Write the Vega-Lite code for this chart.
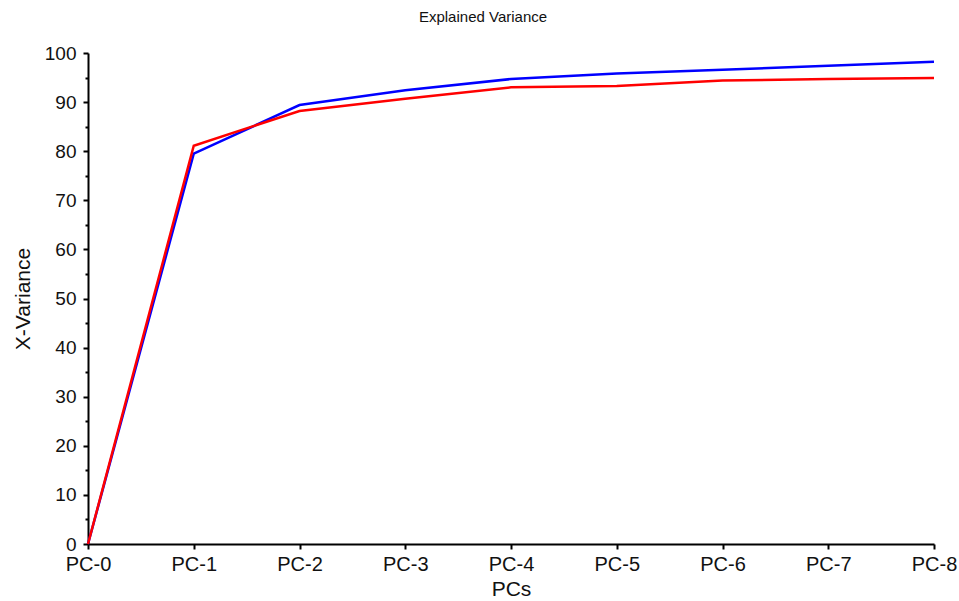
{
  "$schema": "https://vega.github.io/schema/vega-lite/v6.json",
  "width": 846,
  "height": 491,
  "autosize": {"type": "none"},
  "padding": {"left": 88, "top": 53, "right": 25, "bottom": 57},
  "background": "white",
  "config": {
    "view": {"stroke": null},
    "font": "Liberation Sans",
    "axis": {
      "grid": false,
      "domainColor": "black",
      "tickColor": "black",
      "labelColor": "#111111",
      "titleColor": "#111111",
      "domainWidth": 2,
      "tickWidth": 2,
      "labelFontSize": 20,
      "titleFontSize": 21,
      "titleFontWeight": "normal"
    }
  },
  "title": {"text": "Explained Variance", "fontSize": 15, "fontWeight": "normal", "color": "#111111", "offset": 19, "dx": -28},
  "data": {
    "values": [
      {"pc": "PC-0", "series": "Calibration", "value": 0},
      {"pc": "PC-1", "series": "Calibration", "value": 79.5},
      {"pc": "PC-2", "series": "Calibration", "value": 89.4},
      {"pc": "PC-3", "series": "Calibration", "value": 92.4},
      {"pc": "PC-4", "series": "Calibration", "value": 94.7},
      {"pc": "PC-5", "series": "Calibration", "value": 95.8},
      {"pc": "PC-6", "series": "Calibration", "value": 96.6},
      {"pc": "PC-7", "series": "Calibration", "value": 97.4},
      {"pc": "PC-8", "series": "Calibration", "value": 98.2},
      {"pc": "PC-0", "series": "Validation", "value": 0},
      {"pc": "PC-1", "series": "Validation", "value": 81.1},
      {"pc": "PC-2", "series": "Validation", "value": 88.2},
      {"pc": "PC-3", "series": "Validation", "value": 90.7},
      {"pc": "PC-4", "series": "Validation", "value": 93.0},
      {"pc": "PC-5", "series": "Validation", "value": 93.3},
      {"pc": "PC-6", "series": "Validation", "value": 94.4},
      {"pc": "PC-7", "series": "Validation", "value": 94.7},
      {"pc": "PC-8", "series": "Validation", "value": 94.9}
    ]
  },
  "layer": [
    {
      "mark": {"type": "line", "strokeWidth": 2.5},
      "encoding": {
        "x": {
          "field": "pc", "type": "ordinal",
          "scale": {"type": "point", "padding": 0},
          "axis": {"labelAngle": 0, "title": "PCs", "tickSize": 5, "labelPadding": 5, "titlePadding": 4}
        },
        "y": {
          "field": "value", "type": "quantitative",
          "scale": {"domain": [0, 100], "nice": false, "zero": true},
          "axis": {"title": "X-Variance", "values": [0, 10, 20, 30, 40, 50, 60, 70, 80, 90, 100], "tickSize": 5, "labelPadding": 7, "labelFontSize": 19, "titlePadding": 11}
        },
        "color": {
          "field": "series", "type": "nominal",
          "scale": {"domain": ["Calibration", "Validation"], "range": ["#0000ff", "#ff0000"]},
          "legend": null
        }
      }
    },
    {
      "mark": {"type": "line", "opacity": 0},
      "encoding": {
        "x": {"field": "pc", "type": "ordinal"},
        "y": {
          "field": "value", "type": "quantitative",
          "axis": {"orient": "left", "title": null, "labels": false, "domain": false, "values": [5, 15, 25, 35, 45, 55, 65, 75, 85, 95], "tickSize": 3}
        },
        "detail": {"field": "series"}
      }
    }
  ],
  "resolve": {"axis": {"y": "independent"}}
}
